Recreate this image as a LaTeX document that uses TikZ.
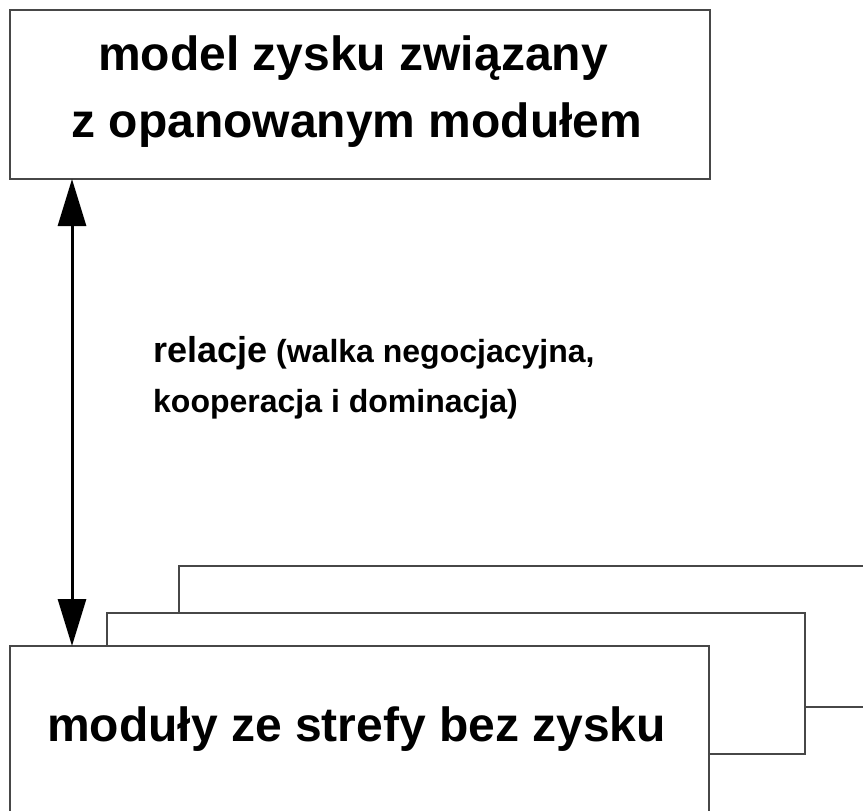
\documentclass[tikz,border=0pt]{standalone}
\usepackage{fontspec}
\setmainfont{Liberation Sans}
\usetikzlibrary{arrows.meta,calc}

\tikzset{
  panel/.style={draw=black!72, line width=1.2pt, fill=white, rectangle,
                inner sep=0pt, outer sep=0pt, anchor=north west},
  bigtext/.style={inner sep=0pt, anchor=base,
                  font=\bfseries\fontsize{48}{58}\selectfont},
  relline/.style={inner sep=0pt, anchor=base west,
                  font=\bfseries\fontsize{32}{40}\selectfont},
  relarrow/.style={line width=3pt, black,
                   {Triangle[length=47pt,width=28pt]}-{Triangle[length=47pt,width=28pt]}}
}

\begin{document}
\begin{tikzpicture}[x=1pt, y=-1pt]
  \useasboundingbox (0,0) rectangle (863,811);
  \clip (0,0) rectangle (863,811);

  % upper module
  \node[panel, minimum width=700pt, minimum height=169pt] (top) at (10,10) {};
  \node[bigtext] (topA) at (353,70) {model zysku związany};
  \node[bigtext] (topB) at (357,137) {z opanowanym modułem};

  % stack of non-profit modules, back to front
  \node[panel, minimum width=720pt, minimum height=141pt] (back) at (179,566) {};
  \node[panel, minimum width=698pt, minimum height=141pt] (mid) at (107,613) {};
  \node[panel, minimum width=699pt, minimum height=190pt] (front) at (10,646) {};
  \node[bigtext] (frontA) at (356.5,741) {moduły ze strefy bez zysku};

  % relation between the two levels
  \draw[relarrow] ($(top.south west)+(62,0)$) -- ($(front.north west)+(62,0)$);

  \node[relline] (relA) at (153,362)
    {{\fontsize{36}{40}\selectfont relacje} (walka negocjacyjna,};
  \node[relline] (relB) at (153,412) {kooperacja i dominacja)};
\end{tikzpicture}
\end{document}
